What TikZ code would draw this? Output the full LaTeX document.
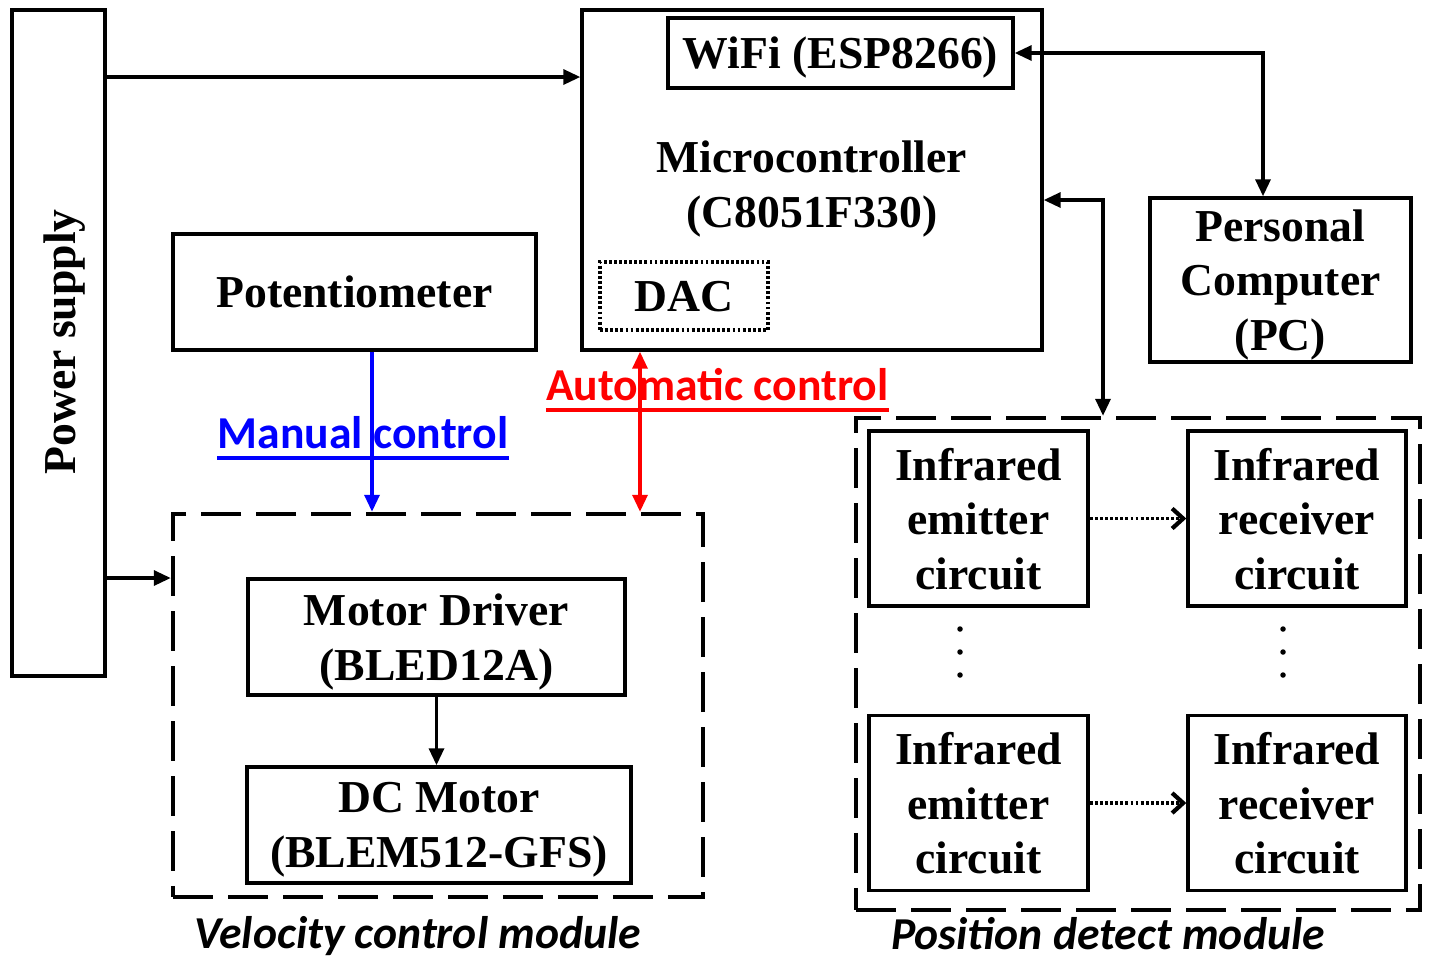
\documentclass[tikz,border=0pt]{standalone}
\usepackage{fontspec}
\setmainfont{Liberation Serif}
\newfontfamily\calibri{Carlito}
\usepackage{xcolor}
\usetikzlibrary{positioning,arrows.meta}

\begin{document}
\begin{tikzpicture}[
  x=0.02cm, y=-0.02cm,
  box/.style={draw, line width=2pt, align=center, inner sep=0pt, text depth=0pt, font=\fontsize{26}{31}\selectfont\bfseries},
  module/.style={draw, line width=2.6pt, dash pattern=on 0.8cm off 0.3cm, inner sep=0pt},
  lbl/.style={font=\fontsize{26}{31}\selectfont\calibri\bfseries, inner sep=0pt},
  arr/.style={-{Triangle[length=0.34cm, width=0.3cm]}, line width=1.9pt},
  darr/.style={{Triangle[length=0.34cm, width=0.3cm]}-{Triangle[length=0.34cm, width=0.3cm]}, line width=1.9pt},
  ray/.style={-{Straight Barb[length=0.22cm, width=0.4cm, line width=2.4pt]}, line width=2pt, dash pattern=on 1.6pt off 1.3pt},
]
  \useasboundingbox (0,0) rectangle (1429,958);

  % supply and controller
  \node[box, minimum width=1.86cm, minimum height=13.32cm] (power) at (58.5,343) {};
  \node[box, draw=none, rotate=90] (powertext) at (60,342) {Power supply};
  \node[box, minimum width=9.2cm, minimum height=6.8cm] (mcu) at (812,180) {};
  \node[box, minimum width=6.9cm, minimum height=1.4cm] (wifi) at (840.5,53) {WiFi (ESP8266)};
  \node[box, draw=none] (mcutext) at (812,184) {Microcontroller\\(C8051F330)};
  \node[box, minimum width=3.36cm, minimum height=1.36cm, dash pattern=on 1.6pt off 1.3pt] (dac) at (684,296) {DAC};
  \node[box, minimum width=5.22cm, minimum height=3.28cm] (pc) at (1280.5,280) {Personal\\Computer\\(PC)};
  \node[box, minimum width=7.26cm, minimum height=2.32cm] (pot) at (354.5,292) {Potentiometer};

  % velocity control module
  \node[module, minimum width=10.6cm, minimum height=7.66cm] (velmod) at (438,705.5) {};
  \node[box, minimum width=7.54cm, minimum height=2.32cm] (driver) at (436.5,637) {Motor Driver\\(BLED12A)};
  \node[box, minimum width=7.68cm, minimum height=2.32cm] (motor) at (439,825) {DC Motor\\(BLEM512-GFS)};
  \node[lbl, anchor=base, font=\fontsize{26}{31}\selectfont\calibri\bfseries\itshape] (vellabel) at (418,948) {Velocity control module};

  % position detect module
  \node[module, minimum width=11.28cm, minimum height=9.84cm] (posmod) at (1138,664) {};
  \node[box, minimum width=4.38cm, minimum height=3.5cm] (em1) at (978.5,518.5) {Infrared\\emitter\\circuit};
  \node[box, minimum width=4.36cm, minimum height=3.5cm] (rx1) at (1297,518.5) {Infrared\\receiver\\circuit};
  \node[box, minimum width=4.38cm, minimum height=3.5cm] (em2) at (978.5,803) {Infrared\\emitter\\circuit};
  \node[box, minimum width=4.36cm, minimum height=3.5cm] (rx2) at (1297,803) {Infrared\\receiver\\circuit};
  \node[lbl, anchor=base, font=\fontsize{26}{31}\selectfont\calibri\bfseries\itshape] (poslabel) at (1108,949) {Position detect module};
  \foreach \x in {960,1283}
    \foreach \y in {629,652,675}
      \fill (\x,\y) circle (0.055cm);

  % control labels
  \node[lbl, blue, anchor=base] (manual) at (363,448) {Manual control};
  \draw[blue, line width=1.8pt] ([yshift=-0.2cm]manual.base west) -- ([yshift=-0.2cm]manual.base east);
  \node[lbl, red, anchor=base] (auto) at (717.5,400) {Automatic control};
  \draw[red, line width=1.8pt] ([yshift=-0.2cm]auto.base west) -- ([yshift=-0.2cm]auto.base east);

  % connections
  \draw[arr] (power.east |- 0,77) -- (mcu.west |- 0,77);
  \draw[arr] (power.east |- 0,578) -- (velmod.west |- 0,578);
  \draw[darr] (wifi.east) -| ([xshift=-0.35cm]pc.north);
  \draw[darr] (mcu.east |- 0,200) -| ([xshift=-0.7cm]posmod.north);
  \draw[arr, blue] ([xshift=0.35cm]pot.south) -- ([xshift=0.35cm]pot.south |- velmod.north);
  \draw[darr, red] (mcu.south -| 640,0) -- (velmod.north -| 640,0);
  \draw[arr] (driver.south) -- (driver.south |- motor.north);
  \draw[ray] (em1) -- (rx1);
  \draw[ray] (em2) -- (rx2);
\end{tikzpicture}
\end{document}
